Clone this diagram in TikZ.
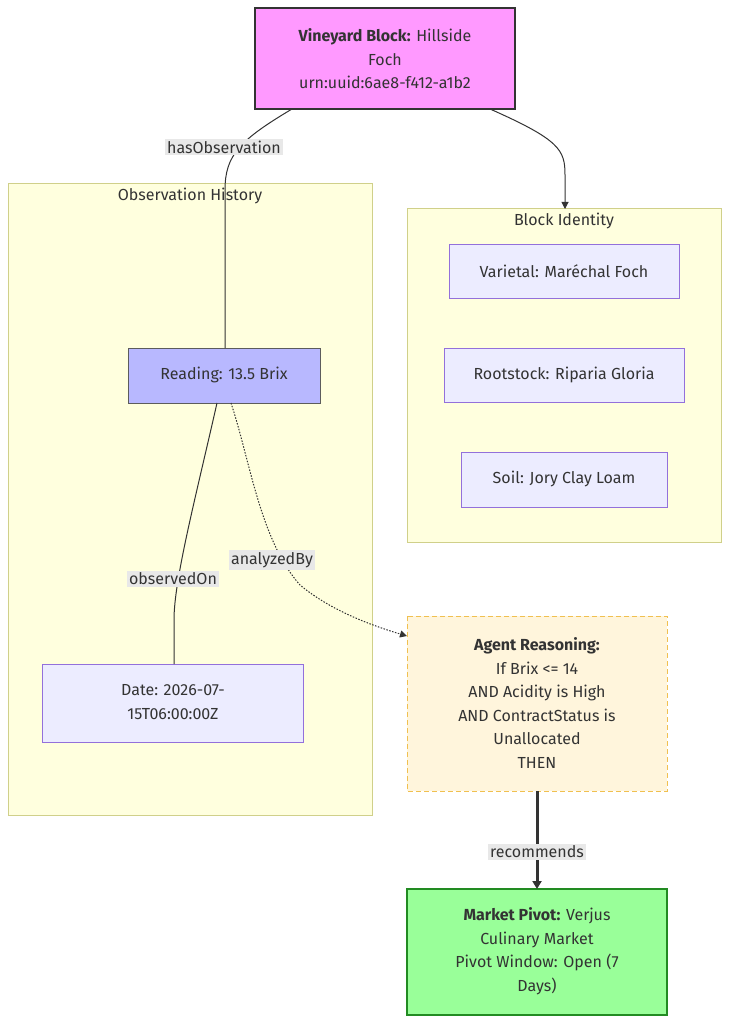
\documentclass[tikz,border=0pt]{standalone}
\usepackage{fontspec}
\setmainfont{Fira Sans}
\usetikzlibrary{arrows.meta}
\definecolor{clusterfill}{HTML}{FFFFDE}
\definecolor{clusterline}{HTML}{D0D08A}
\definecolor{nodefill}{HTML}{ECECFF}
\definecolor{nodeline}{HTML}{9370DB}
\definecolor{topfill}{HTML}{FF99FF}
\definecolor{readfill}{HTML}{B8B8FF}
\definecolor{agentfill}{HTML}{FFF5DC}
\definecolor{agentline}{HTML}{F0C050}
\definecolor{mktfill}{HTML}{99FF99}
\definecolor{mktline}{HTML}{228B22}
\definecolor{txt}{HTML}{333333}
\definecolor{lblbg}{HTML}{E8E8E8}
\definecolor{edge}{HTML}{333333}
\tikzset{
  x=1pt,y=-1pt,
  every node/.style={font=\fontsize{16}{23.5}\selectfont,text=txt},
  cluster/.style={draw=clusterline,fill=clusterfill,line width=1pt},
  plain/.style={draw=nodeline,fill=nodefill,line width=1pt},
  lbl/.style={fill=lblbg,inner sep=2pt},
  conn/.style={draw=edge,line width=1pt},
  tip/.style={-{Triangle[length=7pt,width=7pt]}},
}
\begin{document}
\begin{tikzpicture}
\useasboundingbox (0,0) rectangle (729,1024);
% clusters
\draw[cluster] (8,184) rectangle (372,815);
\node (obsT) at (190,196) {Observation History};
\draw[cluster] (407,209) rectangle (721,542);
\node (idT) at (564,221) {Block Identity};
% nodes
\path[draw=txt,fill=topfill,line width=2pt] (255,8) rectangle (515,109);
\node[align=center] (topT) at (385,59) {\textbf{Vineyard Block:} Hillside\\Foch\\urn:uuid:6ae8-f412-a1b2};
\draw[plain] (449,244) rectangle (679,298);
\node (var) at (564,271) {Varietal: Maréchal Foch};
\draw[plain] (444,348) rectangle (684,402);
\node (root) at (564,375) {Rootstock: Riparia Gloria};
\draw[plain] (461,452) rectangle (667,507);
\node (soil) at (564,479) {Soil: Jory Clay Loam};
\draw[draw=txt!80,fill=readfill,line width=1pt] (128,348) rectangle (320,403);
\node (read) at (224,375) {Reading: 13.5 Brix};
\draw[plain] (42,664) rectangle (303,742);
\node[align=center] (date) at (173,702) {Date: 2026-07-\\15T06:00:00Z};
\draw[draw=agentline,fill=agentfill,line width=1pt,dash pattern=on 5pt off 3pt] (407,616) rectangle (667,791);
\node[align=center] (agent) at (537,703) {\textbf{Agent Reasoning:}\\If Brix <= 14\\AND Acidity is High\\AND ContractStatus is\\Unallocated\\THEN};
\draw[draw=mktline,fill=mktfill,line width=2pt] (407,889) rectangle (667,1015);
\node[align=center] (mkt) at (537,951) {\textbf{Market Pivot:} Verjus\\Culinary Market\\Pivot Window: Open (7\\Days)};
% coordinates for connector ends
\coordinate (topL) at (292,109);
\coordinate (topR) at (490,109);
\coordinate (readTop) at (225,348);
\coordinate (idTop) at (565,209);
\coordinate (readB1) at (217,403);
\coordinate (readB2) at (231,403);
\coordinate (dateTop) at (174,664);
\coordinate (agentL) at (407,636);
\coordinate (agentB) at (537,791);
\coordinate (mktTop) at (537,889);
% connectors
\draw[conn] (topL) .. controls (240,140) and (225,155) .. (225,190) -- (readTop);
\node[lbl] (l1) at (224,147) {hasObservation};
\draw[conn,tip] (topR) .. controls (560,140) and (565,150) .. (565,175) -- (idTop);
\draw[conn] (readB1) .. controls (195,500) and (174,580) .. (174,620) -- (dateTop);
\node[lbl] (l2) at (173,579) {observedOn};
\draw[conn,tip,dash pattern=on 1.5pt off 1.5pt] (readB2) .. controls (250,460) and (260,540) .. (300,585) .. controls (330,610) and (370,625) .. (agentL);
\node[lbl] (l3) at (272,560) {analyzedBy};
\draw[conn,line width=3pt,-{Triangle[length=8pt,width=9pt]}] (agentB) -- (mktTop);
\node[lbl] (l4) at (537,852) {recommends};
\end{tikzpicture}
\end{document}
